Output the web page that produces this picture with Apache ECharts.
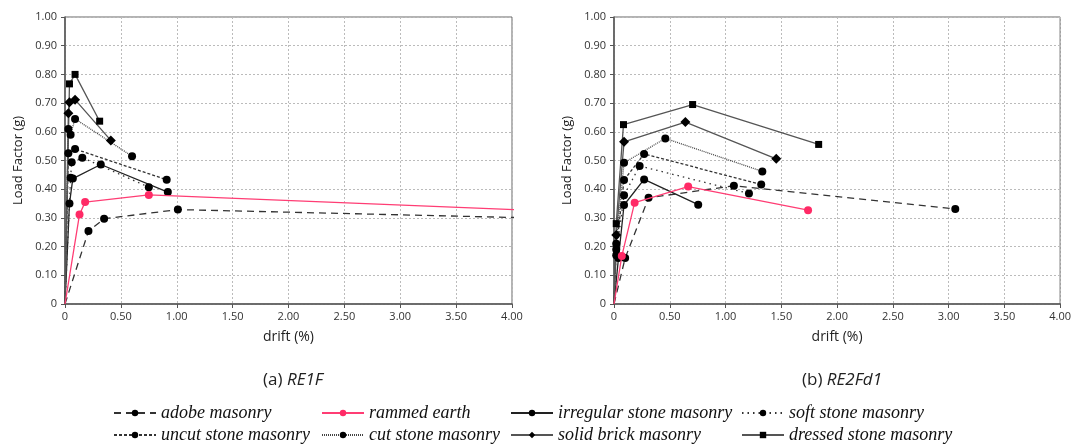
<!DOCTYPE html>
<html>
<head>
<meta charset="utf-8">
<script src="https://cdn.jsdelivr.net/npm/echarts@6/dist/echarts.min.js"></script>
<style>
  html, body { margin: 0; padding: 0; background: #fff; }
  #chart { width: 1074px; height: 446px; }
</style>
</head>
<body>
<div id="chart"></div>
<script>
// legend names
const seriesNames = [
  'adobe masonry', 'rammed earth', 'irregular stone masonry', 'soft stone masonry',
  'uncut stone masonry', 'cut stone masonry', 'solid brick masonry', 'dressed stone masonry'
]

const xTicks = [0, 0.5, 1, 1.5, 2, 2.5, 3, 3.5, 4]
const yTicks = [0, 0.1, 0.2, 0.3, 0.4, 0.5, 0.6, 0.7, 0.8, 0.9, 1]

// (a) RE1F  -- [drift %, load factor g]
const re1fAdobe = [[0, 0], [0.21, 0.254], [0.35, 0.297], [1.01, 0.329], [4.5, 0.297]]
const re1fRammed = [[0, 0], [0.13, 0.312], [0.18, 0.355], [0.75, 0.38], [4.5, 0.321]]
const re1fIrregular = [[0, 0], [0.04, 0.35], [0.07, 0.437], [0.32, 0.486], [0.92, 0.39]]
const re1fSoft = [[0, 0], [0.05, 0.44], [0.06, 0.494], [0.155, 0.51], [0.75, 0.407]]
const re1fUncut = [[0, 0], [0.03, 0.525], [0.09, 0.54], [0.91, 0.433]]
const re1fCut = [[0, 0], [0.03, 0.61], [0.05, 0.59], [0.09, 0.645], [0.6, 0.515]]
const re1fBrick = [[0, 0], [0.03, 0.665], [0.04, 0.703], [0.09, 0.712], [0.41, 0.57]]
const re1fDressed = [[0, 0], [0.04, 0.767], [0.09, 0.8], [0.31, 0.637]]

// (b) RE2Fd1
const re2Adobe = [[0, 0], [0.1, 0.16], [0.31, 0.37], [1.075, 0.412], [3.06, 0.331]]
const re2Rammed = [[0, 0], [0.07, 0.167], [0.185, 0.353], [0.665, 0.409], [1.74, 0.327]]
const re2Irregular = [[0, 0], [0.04, 0.16], [0.09, 0.345], [0.27, 0.434], [0.755, 0.346]]
const re2Soft = [[0, 0], [0.02, 0.17], [0.09, 0.379], [0.23, 0.481], [1.21, 0.385]]
const re2Uncut = [[0, 0], [0.02, 0.19], [0.09, 0.432], [0.27, 0.523], [1.32, 0.416]]
const re2Cut = [[0, 0], [0.02, 0.21], [0.09, 0.492], [0.46, 0.577], [1.33, 0.462]]
const re2Brick = [[0, 0], [0.02, 0.24], [0.09, 0.565], [0.64, 0.634], [1.455, 0.506]]
const re2Dressed = [[0, 0], [0.02, 0.28], [0.085, 0.625], [0.705, 0.695], [1.835, 0.556]]

const styles = {
  'adobe masonry': { color: '#333', type: [7, 5], symbol: 'circle', size: 8, mark: '#000' },
  'rammed earth': { color: '#ff3d74', type: 'solid', symbol: 'circle', size: 8, mark: '#ff2a66' },
  'irregular stone masonry': { color: '#222', type: 'solid', symbol: 'circle', size: 8, mark: '#000' },
  'soft stone masonry': { color: '#333', type: [1.5, 4], symbol: 'circle', size: 8, mark: '#000' },
  'uncut stone masonry': { color: '#333', type: [3, 2], symbol: 'circle', size: 8, mark: '#000' },
  'cut stone masonry': { color: '#444', type: [1, 1], symbol: 'circle', size: 8, mark: '#000' },
  'solid brick masonry': { color: '#555', type: 'solid', symbol: 'diamond', size: 10, mark: '#000' },
  'dressed stone masonry': { color: '#555', type: 'solid', symbol: 'rect', size: 7, mark: '#000' }
}

const panels = [
  { left: 65, title: '(a) {i|RE1F}', center: 288, data: {
    'adobe masonry': re1fAdobe, 'rammed earth': re1fRammed, 'irregular stone masonry': re1fIrregular,
    'soft stone masonry': re1fSoft, 'uncut stone masonry': re1fUncut, 'cut stone masonry': re1fCut,
    'solid brick masonry': re1fBrick, 'dressed stone masonry': re1fDressed } },
  { left: 614, title: '(b) {i|RE2Fd1}', center: 837, data: {
    'adobe masonry': re2Adobe, 'rammed earth': re2Rammed, 'irregular stone masonry': re2Irregular,
    'soft stone masonry': re2Soft, 'uncut stone masonry': re2Uncut, 'cut stone masonry': re2Cut,
    'solid brick masonry': re2Brick, 'dressed stone masonry': re2Dressed } }
]

const font = '"Open Sans", sans-serif'
const fmt = v => (v === 0 ? '0' : v.toFixed(2))

const grid = []
const xAxis = []
const yAxis = []
const series = []
const title = []

panels.forEach((p, i) => {
  grid.push({ left: p.left, width: 447, top: 17, height: 287, show: true, borderColor: '#666', borderWidth: 1 })
  xAxis.push({
    type: 'value', gridIndex: i, min: xTicks[0], max: xTicks[xTicks.length - 1], interval: 0.5,
    name: 'drift (%)', nameLocation: 'middle', nameGap: 26,
    nameTextStyle: { fontFamily: font, fontSize: 14, color: '#222' },
    axisLine: { onZero: false, lineStyle: { color: '#555', width: 1.5 } },
    axisTick: { length: 4, lineStyle: { color: '#555' } },
    axisLabel: { fontFamily: font, fontSize: 11, color: '#333', margin: 7, formatter: fmt },
    splitLine: { lineStyle: { color: '#bbb', type: [2, 2] } }
  })
  yAxis.push({
    type: 'value', gridIndex: i, min: yTicks[0], max: yTicks[yTicks.length - 1], interval: 0.1,
    name: 'Load Factor (g)', nameLocation: 'middle', nameGap: 40,
    nameTextStyle: { fontFamily: font, fontSize: 13, color: '#222' },
    axisLine: { show: true, onZero: false, lineStyle: { color: '#555', width: 1.5 } },
    axisTick: { show: true, length: 4, lineStyle: { color: '#555' } },
    axisLabel: { fontFamily: font, fontSize: 11, color: '#333', margin: 8, formatter: fmt },
    splitLine: { lineStyle: { color: '#bbb', type: [2, 2] } }
  })
  title.push({
    text: p.title, left: p.center, top: 367, textAlign: 'center',
    textStyle: {
      fontFamily: font, fontSize: 17, fontWeight: 'normal', color: '#222',
      rich: { i: { fontFamily: font, fontSize: 17, fontStyle: 'italic', color: '#222' } }
    }
  })
  seriesNames.forEach(name => {
    const s = styles[name]
    series.push({
      name: name, type: 'line', xAxisIndex: i, yAxisIndex: i,
      data: p.data[name],
      symbol: s.symbol,
      symbolSize: v => (v[0] === 0 ? 0 : s.size),
      lineStyle: { color: s.color, width: 1.3, type: s.type },
      itemStyle: { color: s.mark },
      emphasis: { disabled: true },
      animation: false,
      z: name === 'rammed earth' ? 3 : 2
    })
  })
})

// one legend per entry: 4 columns x 2 rows
const legendLeft = [113, 321, 510, 741]
const legendTop = [404, 426]
const legend = seriesNames.map((name, k) => ({
  data: [name], left: legendLeft[k % 4], top: legendTop[Math.floor(k / 4)],
  itemWidth: 42, itemHeight: 8, padding: 0,
  textStyle: { fontFamily: '"Liberation Serif", serif', fontStyle: 'italic', fontSize: 18, color: '#111' }
}))

const chart = echarts.init(document.getElementById('chart'))
chart.setOption({
  animation: false,
  title: title,
  legend: legend,
  grid: grid,
  xAxis: xAxis,
  yAxis: yAxis,
  series: series
})
</script>
</body>
</html>
